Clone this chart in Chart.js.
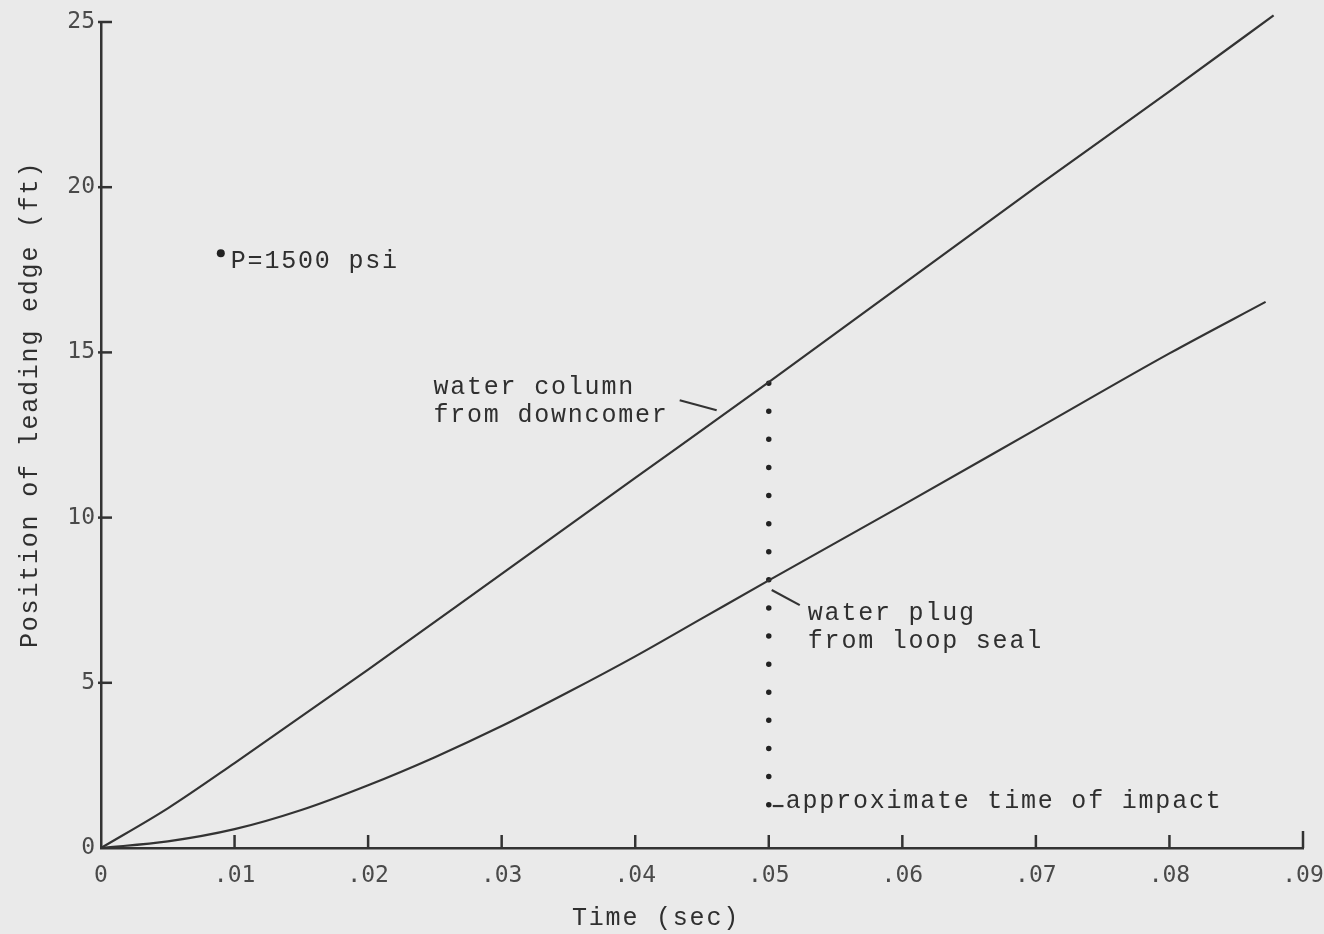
<!DOCTYPE html>
<html>
<head>
<meta charset="utf-8">
<title>Position of leading edge vs time</title>
<script src="https://cdn.jsdelivr.net/npm/chart.js@4.4.0/dist/chart.umd.min.js"></script>
<style>
html, body { margin: 0; padding: 0; background: #eaeaea; }
</style>
</head>
<body>
<canvas id="posChart" width="1324" height="934"></canvas>
<script>
// values
const colTime = [0, 0.005, 0.01, 0.02, 0.03, 0.04, 0.05, 0.06, 0.07, 0.08, 0.0878];
const colPos = [0, 1.2, 2.57, 5.4, 8.3, 11.2, 14.1, 17.05, 20.0, 22.9, 25.2];

const plugTime = [0, 0.005, 0.01, 0.015, 0.02, 0.025, 0.03, 0.035, 0.04, 0.045, 0.05, 0.06, 0.07, 0.08, 0.0872];
const plugPos = [0, 0.2, 0.57, 1.15, 1.9, 2.75, 3.69, 4.72, 5.8, 6.95, 8.1, 10.37, 12.67, 14.97, 16.53];

// dotted marker at the approximate time of impact (top first so the dots start on the upper curve)
const impactTime = [0.05, 0.05];
const impactPos = [14.07, 1.27];

const xTickValues = [0, 0.01, 0.02, 0.03, 0.04, 0.05, 0.06, 0.07, 0.08, 0.09];
const xTickLabels = ['0', '.01', '.02', '.03', '.04', '.05', '.06', '.07', '.08', '.09'];
const yTickValues = [0, 5, 10, 15, 20, 25];
const yTickLabels = ['0', '5', '10', '15', '20', '25'];

const ink = '#333333';
const textInk = '#2f2f2f';
const pitch = 16.8; // typewriter character spacing

// annotation text, placed in data units
const notes = [
    { text: 'water column', x: 0.02489, y: 13.74 },
    { text: 'from downcomer', x: 0.02489, y: 12.90 },
    { text: 'water plug', x: 0.05292, y: 6.90 },
    { text: 'from loop seal', x: 0.05292, y: 6.05 },
    { text: 'P=1500 psi', x: 0.00972, y: 17.55 },
    { text: 'approximate time of impact', x: 0.05127, y: 1.21 }
];
const leaders = [
    [0.04333, 13.55, 0.04610, 13.25],
    [0.05022, 7.81, 0.05232, 7.35],
    [0.05030, 1.27, 0.05110, 1.27]
];

function toPoints(xs, ys) {
    return xs.map((v, i) => ({ x: v, y: ys[i] }));
}

function typeText(ctx, str, px, py) {
    for (let i = 0; i < str.length; i++) {
        ctx.fillText(str[i], px + i * pitch, py);
    }
}

const annotate = {
    id: 'annotate',
    afterDatasetsDraw(chart) {
        const { ctx, chartArea, scales: { x, y } } = chart;
        ctx.save();
        ctx.strokeStyle = ink;
        ctx.fillStyle = textInk;
        ctx.lineCap = 'butt';

        // inward tick marks
        ctx.lineWidth = 2.5;
        yTickValues.slice(1).forEach(v => {
            const py = y.getPixelForValue(v);
            ctx.beginPath();
            ctx.moveTo(chartArea.left - 3, py);
            ctx.lineTo(chartArea.left + 11, py);
            ctx.stroke();
        });
        xTickValues.slice(1).forEach((v, i, arr) => {
            const px = x.getPixelForValue(v);
            ctx.beginPath();
            ctx.moveTo(px, chartArea.bottom);
            ctx.lineTo(px, chartArea.bottom - (i === arr.length - 1 ? 17 : 13));
            ctx.stroke();
        });

        // leader lines
        ctx.lineWidth = 2.2;
        leaders.forEach(l => {
            ctx.beginPath();
            ctx.moveTo(x.getPixelForValue(l[0]), y.getPixelForValue(l[1]));
            ctx.lineTo(x.getPixelForValue(l[2]), y.getPixelForValue(l[3]));
            ctx.stroke();
        });

        // typed notes
        ctx.font = '25px "Liberation Mono", "Courier New", monospace';
        ctx.textBaseline = 'alphabetic';
        ctx.textAlign = 'left';
        notes.forEach(n => typeText(ctx, n.text, x.getPixelForValue(n.x), y.getPixelForValue(n.y)));

        // bullet before P=1500 psi
        ctx.fillStyle = '#222';
        ctx.beginPath();
        ctx.arc(x.getPixelForValue(0.00897), y.getPixelForValue(18.0), 4, 0, Math.PI * 2);
        ctx.fill();

        // axis titles
        ctx.fillStyle = textInk;
        typeText(ctx, 'Time (sec)', 572, 925);
        ctx.translate(37, 648);
        ctx.rotate(-Math.PI / 2);
        typeText(ctx, 'Position of leading edge (ft)', 0, 0);
        ctx.restore();
    }
};

const ctx = document.getElementById('posChart').getContext('2d');
new Chart(ctx, {
    type: 'scatter',
    data: {
        datasets: [
            {
                label: 'water column from downcomer',
                data: toPoints(colTime, colPos),
                showLine: true,
                clip: false,
                borderColor: ink,
                borderWidth: 2.2,
                pointRadius: 0,
                cubicInterpolationMode: 'monotone'
            },
            {
                label: 'water plug from loop seal',
                data: toPoints(plugTime, plugPos),
                showLine: true,
                borderColor: ink,
                borderWidth: 2.2,
                pointRadius: 0,
                cubicInterpolationMode: 'monotone'
            },
            {
                label: 'approximate time of impact',
                data: toPoints(impactTime, impactPos),
                showLine: true,
                borderColor: '#222',
                borderWidth: 5.5,
                borderDash: [0, 28.1],
                borderCapStyle: 'round',
                pointRadius: 0
            }
        ]
    },
    options: {
        responsive: false,
        animation: false,
        events: [],
        layout: { padding: { left: 0, top: 22, right: 21, bottom: 0 } },
        plugins: {
            legend: { display: false },
            tooltip: { enabled: false }
        },
        scales: {
            x: {
                type: 'linear',
                min: 0,
                max: 0.09,
                afterBuildTicks: scale => { scale.ticks = xTickValues.map(v => ({ value: v })); },
                afterFit: scale => {
                    scale.height = 86;
                    scale.paddingLeft = 0;
                    scale.paddingRight = 0;
                },
                grid: { display: false, drawTicks: false },
                border: { display: true, color: ink, width: 2.5 },
                ticks: {
                    autoSkip: false,
                    maxRotation: 0,
                    padding: 14,
                    color: '#4a4a4a',
                    font: { family: 'DejaVu Sans Mono', size: 23 },
                    callback: (v, i) => xTickLabels[i]
                }
            },
            y: {
                type: 'linear',
                min: 0,
                max: 25,
                afterBuildTicks: scale => { scale.ticks = yTickValues.map(v => ({ value: v })); },
                afterFit: scale => {
                    scale.width = 101;
                    scale.paddingTop = 0;
                    scale.paddingBottom = 0;
                },
                grid: { display: false, drawTicks: false },
                border: { display: true, color: ink, width: 2.5 },
                ticks: {
                    autoSkip: false,
                    padding: 6,
                    color: '#4a4a4a',
                    font: { family: 'DejaVu Sans Mono', size: 23 },
                    callback: (v, i) => yTickLabels[i]
                }
            }
        }
    },
    plugins: [annotate]
});
</script>
</body>
</html>
